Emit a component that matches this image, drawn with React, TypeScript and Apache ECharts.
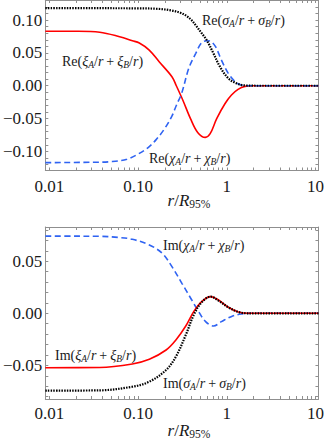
import React, { useEffect, useRef } from 'react';
import * as echarts from 'echarts';

const FONT = "Liberation Serif";

// ---- top panel (real parts) ----
const reSigmaR = [0.00902, 0.03, 0.1, 0.17, 0.241, 0.3, 0.345, 0.4, 0.447, 0.521, 0.593, 0.709, 0.838, 1.04, 1.29, 1.61, 2.5, 10.8];
const reSigma = [0.118, 0.118, 0.1178, 0.117, 0.1145, 0.111, 0.107, 0.1, 0.092, 0.08, 0.0696, 0.049, 0.029, 0.0113, 0.0036, 0.0004, 0, 0];

const reXiR = [0.00902, 0.02, 0.037, 0.062, 0.0863, 0.1034, 0.1337, 0.173, 0.241, 0.27, 0.32, 0.39, 0.47, 0.573, 0.65, 0.77, 0.957, 1.13, 1.34, 1.6, 2, 10.8];
const reXi = [0.083, 0.0829, 0.0815, 0.0746, 0.0685, 0.065, 0.0543, 0.0365, 0.0137, 0, -0.022, -0.05, -0.071, -0.0786, -0.073, -0.05, -0.027, -0.014, -0.0055, -0.001, 0, 0];

const reChiR = [0.00902, 0.03, 0.05, 0.075, 0.1, 0.13, 0.16, 0.2, 0.243, 0.27, 0.31, 0.373, 0.447, 0.521, 0.6, 0.65, 0.747, 0.871, 1.04, 1.25, 1.46, 1.8, 10.8];
const reChi = [-0.117, -0.1165, -0.1155, -0.112, -0.104, -0.094, -0.082, -0.065, -0.045, -0.03, -0.0116, 0.0265, 0.0493, 0.0655, 0.0685, 0.068, 0.0594, 0.039, 0.0189, 0.006, 0.001, 0, 0];

// ---- bottom panel (imaginary parts) ----
const imChiR = [0.00902, 0.02, 0.037, 0.06, 0.0863, 0.134, 0.187, 0.241, 0.312, 0.403, 0.482, 0.577, 0.709, 0.871, 1.12, 1.46, 1.88, 10.8];
const imChi = [0.074, 0.074, 0.0739, 0.0728, 0.071, 0.0656, 0.0576, 0.0448, 0.0288, 0.0128, 0.0016, -0.008, -0.0122, -0.008, -0.0032, -0.0006, 0, 0];

const imXiR = [0.00902, 0.037, 0.0863, 0.134, 0.207, 0.267, 0.345, 0.424, 0.521, 0.656, 0.806, 1.04, 1.35, 1.74, 10.8];
const imXi = [-0.0522, -0.052, -0.0486, -0.0441, -0.0352, -0.0256, -0.0122, 0.0016, 0.0112, 0.016, 0.0128, 0.0058, 0.0013, 0, 0];

const imSigmaR = [0.00902, 0.037, 0.0863, 0.134, 0.207, 0.267, 0.345, 0.424, 0.521, 0.656, 0.806, 1.04, 1.35, 1.74, 10.8];
const imSigma = [-0.0742, -0.0739, -0.0704, -0.0656, -0.0544, -0.0416, -0.0208, -0.0016, 0.0106, 0.016, 0.0122, 0.0058, 0.0013, 0, 0];

// ---- axes ----
const xMin = 0.00902;
const xMax = 10.8;
const xTickValues = [0.01, 0.1, 1, 10];
const xTickLabels = ['0.01', '0.10', '1', '10'];
const xMinorTicks = [0.02, 0.03, 0.04, 0.05, 0.06, 0.07, 0.08, 0.09, 0.2, 0.3, 0.4, 0.5, 0.6, 0.7, 0.8, 0.9, 2, 3, 4, 5, 6, 7, 8, 9];

const topYMin = -0.129;
const topYMax = 0.1305;
const topYTicks = [-0.1, -0.05, 0, 0.05, 0.1];
const topYLabels = ['\u22120.10', '\u22120.05', '0.00', '0.05', '0.10'];
const topYMinor = [-0.12, -0.11, -0.09, -0.08, -0.07, -0.06, -0.04, -0.03, -0.02, -0.01, 0.01, 0.02, 0.03, 0.04, 0.06, 0.07, 0.08, 0.09, 0.11, 0.12, 0.13];

const botYMin = -0.0822;
const botYMax = 0.0828;
const botYTicks = [-0.05, 0, 0.05];
const botYLabels = ['\u22120.05', '0.00', '0.05'];
const botYMinor = [-0.08, -0.07, -0.06, -0.04, -0.03, -0.02, -0.01, 0.01, 0.02, 0.03, 0.04, 0.06, 0.07, 0.08];

const topLabels = ['Re', 'Re', 'Re'];
const botLabels = ['Im', 'Im', 'Im'];

const FRAME = '#8f8f8f';
const TEXT = '#1a1a1a';

function zip(xs: number[], ys: number[]) {
  return xs.map((x, i) => [x, ys[i]]);
}

function pick(values: number[], labels: string[], v: number, log: boolean) {
  let best = 0;
  let bd = Infinity;
  values.forEach((t, i) => {
    const d = log ? Math.abs(Math.log10(t) - Math.log10(v)) : Math.abs(t - v);
    if (d < bd) { bd = d; best = i; }
  });
  return labels[best];
}

function xAxes(grid: number, margin: number) {
  const common = {
    type: 'log' as const,
    logBase: 10,
    gridIndex: grid,
    min: xMin,
    max: xMax,
    splitLine: { show: false },
    axisLine: { show: true, onZero: false, lineStyle: { color: FRAME, width: 1 } },
    axisTick: { show: true, inside: true, length: 3, customValues: [...xTickValues, ...xMinorTicks], lineStyle: { color: FRAME, width: 1 } },
  };
  return [
    {
      ...common,
      position: 'bottom',
      axisLabel: {
        show: true,
        customValues: xTickValues,
        formatter: (v: number) => pick(xTickValues, xTickLabels, v, true),
        fontFamily: FONT,
        fontSize: 17,
        color: TEXT,
        margin,
      },
    },
    { ...common, position: 'top', axisLabel: { show: false } },
  ];
}

function yAxes(grid: number, min: number, max: number, ticks: number[], labels: string[], minor: number[]) {
  const common = {
    type: 'value' as const,
    gridIndex: grid,
    min,
    max,
    splitLine: { show: false },
    axisLine: { show: true, onZero: false, lineStyle: { color: FRAME, width: 1 } },
    axisTick: { show: true, inside: true, length: 3, customValues: [...ticks, ...minor], lineStyle: { color: FRAME, width: 1 } },
  };
  return [
    {
      ...common,
      position: 'left',
      axisLabel: {
        show: true,
        customValues: ticks,
        formatter: (v: number) => pick(ticks, labels, v, false),
        fontFamily: FONT,
        fontSize: 17,
        color: TEXT,
        margin: 3,
      },
    },
    { ...common, position: 'right', axisLabel: { show: false } },
  ];
}

const tok = (size: number, italic: boolean, extra: any = {}) => ({
  fontFamily: FONT,
  fontSize: size,
  fontStyle: italic ? 'italic' : 'normal',
  font: `${italic ? 'italic ' : ''}${size}px "${FONT}"`,
  fill: TEXT,
  color: TEXT,
  ...extra,
});

const rich = {
  n: tok(14, false, { lineHeight: 18 }),
  i: tok(14, true, { lineHeight: 18 }),
  s: tok(9.5, true, { verticalAlign: 'bottom', lineHeight: 12 }),
  p: tok(14, false, { lineHeight: 18, padding: [0, 3] }),
  ax: tok(17, false, { lineHeight: 20 }),
  axi: tok(17, true, { lineHeight: 20 }),
  axs: tok(11.5, false, { verticalAlign: 'bottom', lineHeight: 14 }),
};

function mathLabel(fn: string, sym: string) {
  return `{n|${fn}(}{i|${sym}}{s|A}{n|/}{i|r}{p|+}{i|${sym}}{s|B}{n|/}{i|r}{n|)}`;
}

const axisTitle = '{axi|r}{ax|/}{axi|R}{axs|95%}';

function textEl(x: number, y: number, text: string, align = 'left') {
  return {
    type: 'text',
    x,
    y,
    z: 100,
    style: { text, rich, fill: TEXT, align, verticalAlign: 'middle', fontFamily: FONT, fontSize: 14, font: `14px "${FONT}"` },
  };
}

export default function App() {
  const ref = useRef<HTMLDivElement>(null);
  useEffect(() => {
    if (!ref.current) return;
    const chart = echarts.init(ref.current, undefined, { renderer: 'svg' });
    const red = { color: '#ff0000', width: 1.6, type: 'solid' as const };
    const blue = { color: '#2f63f2', width: 1.6, type: [6, 3.5] };
    const black = { color: '#000000', width: 2.2, type: [1.5, 1.2] };
    const line = (name: string, xi: number, yi: number, data: number[][], ls: any, z: number) => ({
      name,
      type: 'line',
      xAxisIndex: xi,
      yAxisIndex: yi,
      data,
      showSymbol: false,
      symbol: 'none',
      smooth: 0.35,
      lineStyle: ls,
      z,
      silent: true,
    });
    chart.setOption({
      animation: false,
      backgroundColor: '#ffffff',
      textStyle: { fontFamily: FONT },
      grid: [
        { left: 45, top: 0, width: 276, height: 170.5, show: false, containLabel: false },
        { left: 45, top: 227, width: 276, height: 172, show: false, containLabel: false },
      ],
      xAxis: [...xAxes(0, 7), ...xAxes(1, 5.5)],
      yAxis: [
        ...yAxes(0, topYMin, topYMax, topYTicks, topYLabels, topYMinor),
        ...yAxes(1, botYMin, botYMax, botYTicks, botYLabels, botYMinor),
      ],
      series: [
        line('Re xi', 0, 0, zip(reXiR, reXi), red, 2),
        line('Re chi', 0, 0, zip(reChiR, reChi), blue, 3),
        line('Re sigma', 0, 0, zip(reSigmaR, reSigma), black, 4),
        line('Im chi', 2, 2, zip(imChiR, imChi), blue, 2),
        line('Im xi', 2, 2, zip(imXiR, imXi), red, 3),
        line('Im sigma', 2, 2, zip(imSigmaR, imSigma), black, 4),
      ],
      graphic: [
        textEl(202, 20, mathLabel(topLabels[0], '\u03c3')),
        textEl(62, 61, mathLabel(topLabels[1], '\u03be')),
        textEl(149, 158, mathLabel(topLabels[2], '\u03c7')),
        textEl(163, 245, mathLabel(botLabels[0], '\u03c7')),
        textEl(55, 355, mathLabel(botLabels[1], '\u03be')),
        textEl(163, 383, mathLabel(botLabels[2], '\u03c3')),
        textEl(189, 200, axisTitle, 'center'),
        textEl(189, 430, axisTitle, 'center'),
      ],
    });
    return () => chart.dispose();
  }, []);
  return <div ref={ref} style={{ position: 'absolute', left: 0, top: 0, width: 327, height: 445 }} />;
}
